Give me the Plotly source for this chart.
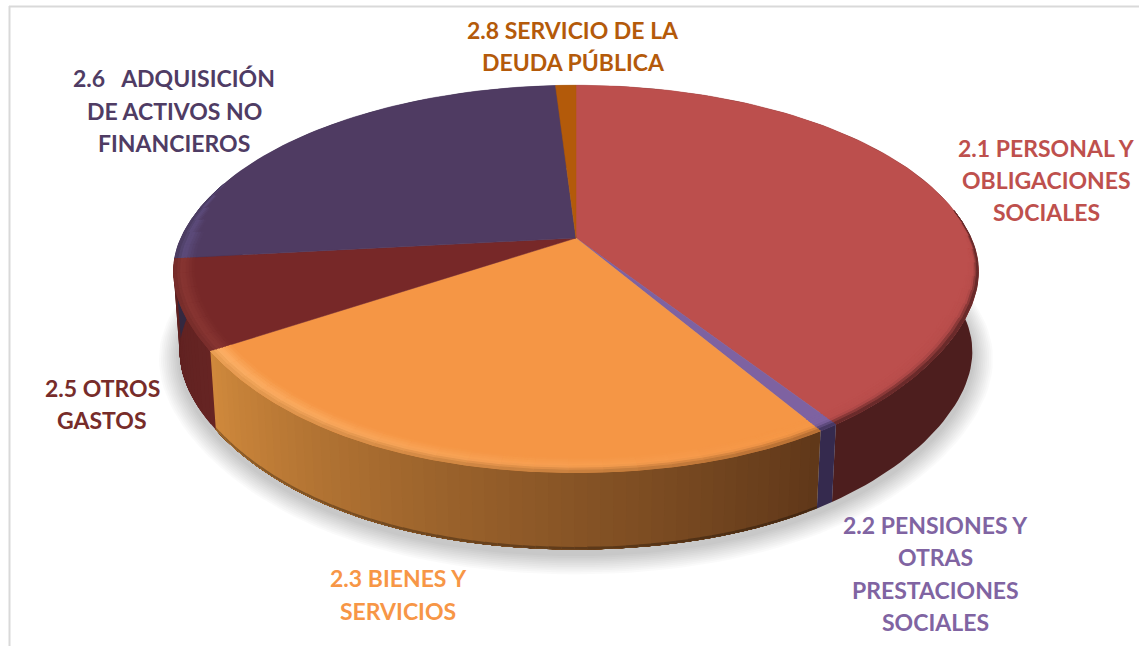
import numpy as np
import plotly.graph_objects as go

# ---- data (share of the total, %) ----
categories = ["2.1 PERSONAL Y OBLIGACIONES SOCIALES",
              "2.2 PENSIONES Y OTRAS PRESTACIONES SOCIALES",
              "2.3 BIENES Y SERVICIOS",
              "2.5 OTROS GASTOS",
              "2.6 ADQUISICIÓN DE ACTIVOS NO FINANCIEROS",
              "2.8 SERVICIO DE LA DEUDA PÚBLICA"]
values = [40.6, 0.7, 24.6, 7.4, 25.7, 1.0]

# ---- styles ----
top_colors = ["#BC4F4D", "#7E62A1", "#F59645", "#772828", "#4F3B62", "#B35A0A"]
side_start = ["#4D1E1E", "#352A4E", "#5F3719", "#662423", "#332840", "#6E3A08"]
side_end = ["#4D1E1E", "#352A4E", "#D0893C", "#5E2120", "#332840", "#6E3A08"]
rim_mid = ["#B84D4B", "#7E62A1", "#FDB066", "#883532", "#5D4C7C", "#B35A0A"]
label_colors = ["#BE504D", "#8064A2", "#F79646", "#772C2A", "#4F3C64", "#B45A0A"]
labels = [
    (["2.1 PERSONAL Y", "OBLIGACIONES", "SOCIALES"], 1046, 148, 32),
    (["2.2 PENSIONES Y", "OTRAS", "PRESTACIONES", "SOCIALES"], 935, 525, 32.3),
    (["2.3 BIENES Y", "SERVICIOS"], 398, 578, 32.5),
    (["2.5 OTROS", "GASTOS"], 102, 388, 32),
    (["2.6\u00a0\u00a0\u00a0ADQUISICIÓN", "DE ACTIVOS NO", "FINANCIEROS"], 174, 78, 32.5),
    (["2.8 SERVICIO DE LA", "DEUDA PÚBLICA"], 573, 30, 31.5),
]

# ---- projection of the pie disc ----
CX, CY, A, B, K = 576.0, 238.0, 395.0, 185.0, 0.211
DEPTH, S = 80.5, 0.985
SQUEEZE = 0.12


def proj(theta, r=1.0):
    u, v = r * np.sin(theta), r * np.cos(theta)
    w = 1 + K * v
    s, c = np.sin(theta), np.cos(theta)
    g = np.where(c < 0, (s * c) ** 2, 0.0)
    return CX + A * u / w * (1 - SQUEEZE * g), CY - B * v / w


def lower(x, y):
    return CX + S * (x - CX), CY + S * (y - CY) + DEPTH


def hex2rgb(c):
    return np.array([int(c[i:i + 2], 16) for i in (1, 3, 5)], float)


def mix(c1, c2, t):
    t = float(np.clip(t, 0, 1))
    v = hex2rgb(c1) * (1 - t) + hex2rgb(c2) * t
    return "#%02X%02X%02X" % tuple(int(round(a)) for a in v)


fig = go.Figure()


def poly(x, y, color, lw=0.0):
    fig.add_trace(go.Scatter(x=list(x), y=list(y), mode="lines", fill="toself", fillcolor=color,
                             line=dict(width=lw, color=color), hoverinfo="skip", showlegend=False))


edges = np.cumsum([0] + values) / sum(values) * 2 * np.pi
full = np.linspace(0, 2 * np.pi, 181)

# soft shadow beneath the pie
for g in np.linspace(22, 2, 11):
    x, y = lower(*proj(full))
    x = CX + (x - CX) * (1 + g / 420)
    y = (CY + 85) + (y - (CY + 85)) * (1 + g / 250) + 5
    fig.add_trace(go.Scatter(x=x, y=y, mode="lines", fill="toself", fillcolor="rgba(0,0,0,0.018)",
                             line=dict(width=0), hoverinfo="skip", showlegend=False))

# side wall: each strip reaches to the slice end and the next paints over it, so no seams show
for i in range(len(values)):
    a0, a1 = edges[i], edges[i + 1]
    uniform = side_start[i] == side_end[i]
    n = 1 if uniform else max(2, int((a1 - a0) / np.radians(1.5)))
    ts = np.linspace(a0, a1, n + 1)
    for j in range(n):
        seg = np.linspace(ts[j], a1, max(4, int((a1 - ts[j]) / np.radians(1.5))))
        xt, yt = proj(seg)
        xb, yb = lower(xt, yt)
        col = mix(side_start[i], side_end[i], (j + 0.5) / n)
        poly(np.r_[xt, xb[::-1]], np.r_[yt, yb[::-1]], col)
        if i == 2:
            poly(np.r_[xb, xb[::-1]], np.r_[yb, (yb - 2.5)[::-1]], mix(col, "#000000", 0.3))

# top surface
for i in range(len(values)):
    a0, a1 = edges[i], edges[i + 1]
    th = np.linspace(a0, a1, max(4, int((a1 - a0) / np.radians(1.5))))
    x, y = proj(th)
    poly(np.r_[CX, x, CX], np.r_[CY, y, CY], top_colors[i], 0.5)

# bevel along the front rim
BANDS = 7
WIDTH = 0.05
for i in range(len(values)):
    a0, a1 = edges[i], edges[i + 1]
    n = max(1, int((a1 - a0) / np.radians(4.0)))
    ts = np.linspace(a0, a1, n + 1)
    for j in range(n):
        mid = 0.5 * (ts[j] + ts[j + 1])
        front = np.clip((0.15 - np.cos(mid)) / 0.6, 0, 1)
        if i == 3 or i == 4:
            front = max(front, np.clip((0.3 - np.cos(mid)) / 0.3, 0, 1))
        if front <= 0:
            continue
        f = (j + 0.5) / n
        side = mix(side_start[i], side_end[i], f)
        hi = mix(top_colors[i], rim_mid[i], f if i == 2 else 1)
        seg = np.linspace(ts[j], ts[j + 1], 4)
        for b in range(BANDS):
            t0 = b / BANDS
            t1 = (b + 1) / BANDS
            r0 = 1 - WIDTH * (1 - t0) * front
            r1 = 1 - WIDTH * (1 - t1) * front
            tc = 0.5 * (t0 + t1)
            if tc < 0.6:
                col = mix(top_colors[i], hi, tc / 0.6)
            else:
                col = mix(hi, side, (tc - 0.6) / 0.4 * (0.5 if i in (2, 3, 4) else 0.9))
            xi, yi = proj(seg, r0)
            xo, yo = proj(seg, r1)
            poly(np.r_[xi, xo[::-1]], np.r_[yi, yo[::-1]], col, 1.0)

# labels
annotations = []
for (lines, xc, y0, dy), color in zip(labels, label_colors):
    for k, line in enumerate(lines):
        annotations.append(dict(x=xc, y=y0 + k * dy, xref="x", yref="y", text="<b>%s</b>" % line,
                                showarrow=False, xanchor="center", yanchor="middle",
                                font=dict(family="Lato", size=23, color=color)))

shapes = [
    dict(type="line", xref="x", yref="y", x0=9.5, x1=9.5, y0=6, y1=646, line=dict(color="#D9D9D9", width=2)),
    dict(type="line", xref="x", yref="y", x0=9, x1=1139, y0=6.5, y1=6.5, line=dict(color="#D9D9D9", width=2)),
]

fig.update_layout(width=1139, height=646, autosize=False, margin=dict(l=0, r=0, t=0, b=0),
                  paper_bgcolor="white", plot_bgcolor="white", showlegend=False,
                  xaxis=dict(range=[0, 1139], visible=False, fixedrange=True),
                  yaxis=dict(range=[646, 0], visible=False, fixedrange=True),
                  annotations=annotations, shapes=shapes)
fig.write_html("out.html", post_script="document.body.style.margin='0';document.body.style.overflow='hidden';",
               config={"displayModeBar": False})
